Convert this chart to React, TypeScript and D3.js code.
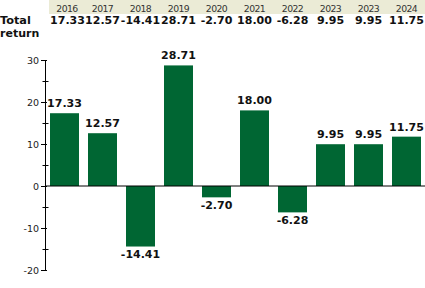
import React from "react";
import * as d3 from "d3";

const years = ["2016", "2017", "2018", "2019", "2020", "2021", "2022", "2023", "2023", "2024"];
const returns = [17.33, 12.57, -14.41, 28.71, -2.7, 18.0, -6.28, 9.95, 9.95, 11.75];
const yTicks = [-20, -10, 0, 10, 20, 30];
const yMinorTicks = [-15, -5, 5, 15, 25];
const rowLabel = ["Total", "return"];

const W = 425;
const H = 288;
const FONT = "'DejaVu Sans', Verdana, sans-serif";

export default function App() {
  const idx = d3.range(years.length);
  const x = d3
    .scaleBand<number>()
    .domain(idx)
    .range([45.5, 425.5])
    .paddingInner(0.237)
    .paddingOuter(0.1185);
  const y = d3.scaleLinear().domain([-20, 30]).range([270, 60]);
  const axisX = 45;

  return (
    <div style={{ position: "absolute", left: 0, top: 0 }}>
      <svg width={W} height={H} style={{ display: "block", background: "#fff" }}>
        {/* header band */}
        <rect x={49} y={0} width={W - 49} height={14} fill="#ebebd6" />
        {idx.map((i) => (
          <text
            key={"yr" + i}
            x={x(i)! + x.bandwidth() / 2 + (i === 0 ? 2.5 : 0)}
            y={11.5}
            textAnchor="middle"
            fontFamily={FONT}
            fontSize={9.3}
            letterSpacing={-0.6}
            fill="#333"
          >
            {years[i]}
          </text>
        ))}
        <text x={0} y={24} fontFamily={FONT} fontSize={11.3} fontWeight="bold" fill="#111">
          {rowLabel[0]}
        </text>
        <text x={0} y={37} fontFamily={FONT} fontSize={11} fontWeight="bold" fill="#111">
          {rowLabel[1]}
        </text>
        {idx.map((i) => (
          <text
            key={"hv" + i}
            x={x(i)! + x.bandwidth() / 2 + (i === 0 ? 3 : 0)}
            y={24}
            textAnchor="middle"
            fontFamily={FONT}
            fontSize={11}
            fontWeight="bold"
            fill="#111"
          >
            {returns[i].toFixed(2)}
          </text>
        ))}

        {/* bars */}
        {idx.map((i) => {
          const v = returns[i];
          const y0 = y(Math.max(0, v));
          const y1 = y(Math.min(0, v));
          return (
            <rect
              key={"b" + i}
              x={x(i)}
              y={y0}
              width={x.bandwidth()}
              height={y1 - y0}
              fill="#006633"
            />
          );
        })}
        {/* bar labels */}
        {idx.map((i) => {
          const v = returns[i];
          const ly = v >= 0 ? y(v) - 6 : y(v) + 11.5;
          return (
            <text
              key={"bl" + i}
              x={x(i)! + x.bandwidth() / 2}
              y={ly}
              textAnchor="middle"
              fontFamily={FONT}
              fontSize={11}
              fontWeight="bold"
              fill="#111"
            >
              {v.toFixed(2)}
            </text>
          );
        })}

        {/* zero line */}
        <line x1={axisX} x2={W} y1={y(0)} y2={y(0)} stroke="#000" strokeWidth={1} />
        {/* y axis */}
        <line x1={axisX + 0.5} x2={axisX + 0.5} y1={y(30)} y2={y(-20)} stroke="#000" strokeWidth={1} />
        {yTicks.map((t) => (
          <g key={"t" + t}>
            <line x1={41} x2={47} y1={Math.round(y(t)) + 0.5} y2={Math.round(y(t)) + 0.5} stroke="#000" />
            <text
              x={39}
              y={y(t) + 3.5}
              textAnchor="end"
              fontFamily={FONT}
              fontSize={9.5}
              fill="#222"
            >
              {t}
            </text>
          </g>
        ))}
        {yMinorTicks.map((t) => (
          <line
            key={"m" + t}
            x1={42.5}
            x2={48.5}
            y1={Math.round(y(t)) + 0.5}
            y2={Math.round(y(t)) + 0.5}
            stroke="#000"
          />
        ))}
      </svg>
    </div>
  );
}
